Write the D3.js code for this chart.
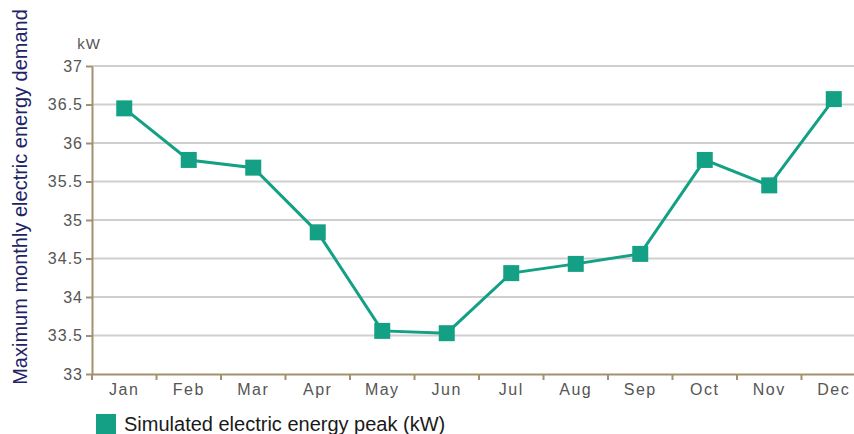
<!DOCTYPE html>
<html>
<head>
<meta charset="utf-8">
<script src="https://cdn.jsdelivr.net/npm/d3@7"></script>
<style>
  body { margin: 0; background: #fff; }
  svg { display: block; font-family: "Liberation Sans", Arial, sans-serif; }
</style>
</head>
<body>
<svg width="854" height="434"></svg>
<script>
const months = ["Jan", "Feb", "Mar", "Apr", "May", "Jun", "Jul", "Aug", "Sep", "Oct", "Nov", "Dec"];
const peakKW = [36.45, 35.78, 35.68, 34.84, 33.56, 33.53, 34.31, 34.43, 34.56, 35.78, 35.45, 36.57];
const yTicks = [33, 33.5, 34, 34.5, 35, 35.5, 36, 36.5, 37];
const yTickLabels = ["33", "33.5", "34", "34.5", "35", "35.5", "36", "36.5", "37"];

const svg = d3.select("svg");
const teal = "#14a085";
const axisColor = "#a39070";

const x = d3.scaleBand().domain(months).range([92, 866]);
const y = d3.scaleLinear().domain([33, 37]).range([374, 66]);

// gridlines
svg.append("g")
  .selectAll("line")
  .data(yTicks.slice(1))
  .join("line")
  .attr("x1", 92).attr("x2", 854)
  .attr("y1", d => y(d)).attr("y2", d => y(d))
  .attr("stroke", "#cfcfcf")
  .attr("stroke-width", 2);

// y axis
const yAxis = svg.append("g")
  .attr("transform", "translate(92,0)")
  .call(d3.axisLeft(y).tickValues(yTicks).tickFormat((d, i) => yTickLabels[i]).tickSize(6).tickSizeOuter(0));
yAxis.select(".domain").attr("stroke", axisColor).attr("stroke-width", 2);
yAxis.selectAll(".tick line").attr("stroke", axisColor).attr("stroke-width", 2);
yAxis.selectAll(".tick text").attr("fill", "#555").attr("font-size", 16).attr("x", -9)
  .attr("letter-spacing", 1)
  .attr("font-family", "Liberation Sans, Arial, sans-serif");

// x axis (ticks between categories)
const xAxis = svg.append("g")
  .attr("transform", "translate(0,374)")
  .call(d3.axisBottom(x).tickSize(0).tickSizeOuter(0));
xAxis.select(".domain").attr("stroke", axisColor).attr("stroke-width", 2);
xAxis.selectAll(".tick text").attr("fill", "#555").attr("font-size", 16)
  .attr("y", 21).attr("dy", 0)
  .attr("letter-spacing", 1.5)
  .attr("font-family", "Liberation Sans, Arial, sans-serif");
svg.append("g")
  .selectAll("line")
  .data(months)
  .join("line")
  .attr("x1", d => x(d)).attr("x2", d => x(d))
  .attr("y1", 374).attr("y2", 380)
  .attr("stroke", axisColor)
  .attr("stroke-width", 2);

// unit
svg.append("text")
  .attr("x", 89).attr("y", 49)
  .attr("text-anchor", "middle")
  .attr("fill", "#555")
  .attr("font-size", 15)
  .attr("letter-spacing", 1)
  .text("kW");

// y title
svg.append("text")
  .attr("transform", "translate(27,197) rotate(-90)")
  .attr("text-anchor", "middle")
  .attr("fill", "#1c2466")
  .attr("font-size", 20)
  .text("Maximum monthly electric energy demand");

// line + markers
const line = d3.line()
  .x((d, i) => x(months[i]) + x.bandwidth() / 2)
  .y(d => y(d));

svg.append("path")
  .datum(peakKW)
  .attr("fill", "none")
  .attr("stroke", teal)
  .attr("stroke-width", 3)
  .attr("d", line);

svg.append("g")
  .selectAll("rect")
  .data(peakKW)
  .join("rect")
  .attr("x", (d, i) => x(months[i]) + x.bandwidth() / 2 - 8)
  .attr("y", d => y(d) - 8)
  .attr("width", 16).attr("height", 16)
  .attr("fill", teal);

// legend
svg.append("rect")
  .attr("x", 96).attr("y", 414)
  .attr("width", 20).attr("height", 20)
  .attr("fill", teal);
svg.append("text")
  .attr("x", 124).attr("y", 431)
  .attr("fill", "#1a1a1a")
  .attr("font-size", 20)
  .text("Simulated electric energy peak (kW)");
</script>
</body>
</html>
